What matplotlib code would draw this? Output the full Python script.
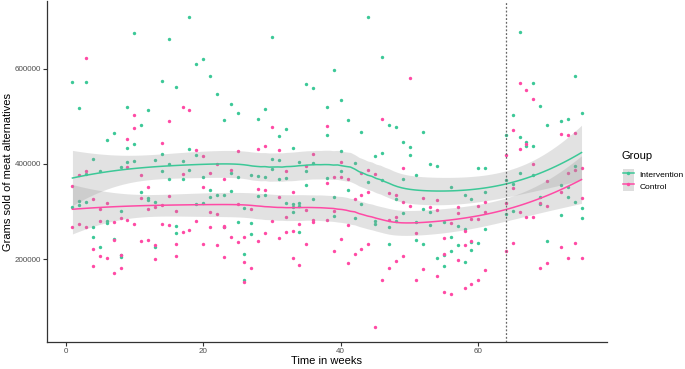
import numpy as np
import matplotlib
matplotlib.use('Agg')
import matplotlib.pyplot as plt
from matplotlib.lines import Line2D
from matplotlib.patches import Patch

plt.rcParams['font.family'] = ['Liberation Sans', 'DejaVu Sans']

# sales per week, thousands of grams
int_week = [1, 1, 2, 2, 2, 3, 3, 3, 4, 4, 4, 5, 5, 6, 6, 6, 7, 7, 8, 8, 8, 8,
            9, 9, 9, 10, 10, 10, 11, 11, 12, 12, 12, 13, 13, 13, 14, 14, 14,
            15, 15, 15, 16, 16, 16, 17, 17, 18, 18, 18, 19, 19, 19, 20, 20, 20,
            21, 21, 21, 22, 22, 23, 23, 23, 24, 24, 24, 25, 25, 25, 26, 26, 26,
            27, 27, 27, 28, 28, 28, 29, 29, 29, 30, 30, 30, 31, 31, 31,
            32, 32, 32, 33, 33, 33, 33, 34, 34, 34, 34, 35, 35, 35, 36, 36, 36,
            38, 38, 38, 39, 39, 39, 40, 40, 40, 41, 41, 42, 42, 43, 43, 44, 44,
            45, 45, 45, 46, 46, 46, 47, 47, 47, 48, 48, 48, 49, 49, 49, 50, 50,
            51, 51, 51, 52, 52, 52, 53, 53, 53, 54, 54, 55, 55, 55, 56, 56, 56,
            57, 57, 58, 58, 58, 59, 59, 59, 60, 60, 61, 61, 61,
            64, 64, 64, 65, 65, 65, 66, 66, 66, 67, 67, 68, 68, 68, 69, 69, 69,
            70, 70, 72, 72, 72, 73, 73, 73, 74, 74, 74, 75, 75, 75]
int_k = [573, 310, 518, 323, 314, 573, 378, 320, 411, 268, 246, 385, 225,
         450, 281, 275, 465, 243, 394, 302, 208, 205, 519, 434, 404, 675, 442, 407,
         483, 342, 514, 328, 324, 408, 320, 225, 574, 420, 386, 663, 399, 368,
         561, 269, 255, 406, 368, 709, 432, 387, 610, 418, 315, 621, 373, 317,
         585, 345, 331, 547, 334, 492, 334, 268, 526, 381, 344, 507, 372, 279,
         307, 211, 157, 376, 276, 252, 495, 375, 333, 515, 373, 335, 668, 410, 389,
         458, 408, 368, 474, 371, 318, 434, 316, 310, 299, 404, 317, 311, 256,
         568, 386, 356, 559, 402, 327, 520, 462, 370, 598, 330, 290, 535, 428, 385,
         492, 346, 402, 286, 468, 316, 710, 362, 416, 281, 274, 626, 423, 366,
         483, 267, 231, 477, 326, 281, 446, 368, 296, 436, 418, 376, 278, 241,
         467, 305, 232, 401, 300, 271, 395, 203, 279, 208, 186, 351, 247, 217,
         269, 229, 335, 264, 194, 326, 236, 219, 391, 234, 392, 342, 264,
         461, 366, 295, 502, 357, 302, 677, 457, 381, 447, 438, 571, 438, 377,
         522, 331, 315, 481, 237, 491, 355, 292, 495, 351, 331, 585, 396, 319,
         508, 308, 286]

ctl_week = [1, 1, 2, 2, 3, 3, 3, 4, 4, 4, 5, 5, 5, 6, 6, 7, 7, 7, 8, 8, 8,
            9, 9, 9, 10, 10, 10, 11, 11, 11, 12, 12, 12, 13, 13, 13, 14, 14, 14,
            15, 15, 15, 16, 16, 16, 17, 17, 17, 18, 18, 19, 19, 20, 20, 20,
            21, 21, 21, 22, 22, 22, 23, 23, 23, 23, 24, 24, 25, 25, 25, 26, 26, 26,
            27, 27, 28, 28, 28, 29, 29, 29, 30, 30, 31, 31, 31, 32, 32, 32,
            33, 33, 33, 34, 34, 35, 35, 35, 36, 36, 36, 38, 38, 38, 39, 39, 39,
            40, 40, 40, 41, 41, 41, 42, 42, 43, 43, 43, 44, 44, 44, 45, 45, 46, 46,
            47, 47, 47, 48, 48, 48, 49, 49, 49, 50, 50, 51, 51, 52, 52, 53,
            54, 54, 54, 55, 55, 55, 56, 56, 57, 57, 57, 58, 58, 58, 59, 59, 59,
            60, 60, 60, 61, 61, 61, 64, 64, 64, 65, 65, 65, 66, 66, 66, 67, 67, 67,
            68, 68, 68, 69, 69, 70, 70, 70, 72, 72, 72, 73, 73, 73, 74, 74, 74,
            75, 75, 75]
ctl_k = [354, 267, 376, 273, 623, 385, 268, 326, 222, 185, 306, 281, 207,
         317, 203, 278, 240, 170, 286, 209, 182, 453, 393, 282, 504, 476, 274,
         376, 328, 237, 352, 305, 240, 309, 230, 200, 445, 314, 274, 491, 333, 272,
         302, 232, 206, 519, 378, 257, 513, 262, 429, 281, 416, 351, 231,
         380, 298, 268, 399, 294, 230, 368, 270, 267, 205, 388, 246, 428, 316, 236,
         247, 194, 152, 305, 182, 432, 347, 238, 438, 346, 255, 478, 280,
         429, 330, 244, 385, 289, 256, 341, 259, 203, 273, 187, 396, 304, 232,
         420, 282, 278, 479, 359, 283, 373, 302, 218, 404, 373, 243, 368, 272, 192,
         326, 211, 381, 334, 222, 387, 342, 231, 379, 58, 495, 156,
         340, 283, 182, 335, 289, 196, 391, 319, 207, 581, 311, 254, 156, 328, 180, 310,
         325, 303, 164, 244, 211, 131, 276, 126, 310, 297, 197, 258, 229, 140,
         284, 239, 147, 312, 284, 157, 319, 299, 178, 419, 318, 216, 472, 349, 233,
         570, 431, 299, 556, 443, 288, 537, 399, 288, 317, 182, 365, 312, 191,
         463, 342, 225, 462, 381, 203, 466, 388, 234, 392, 329, 202]

policy_week = 64
groups = ['Intervention', 'Control']
colors = ['#3cc897', '#ff4aa5']


def loess(x, y, xs, span=0.75):
    # local quadratic fit, tricube weights (like R's loess default)
    n = len(x)
    q = int(np.floor(n * span))

    def rows(pts):
        out = []
        for x0 in pts:
            d = np.abs(x - x0)
            h = np.sort(d)[q - 1]
            w = np.clip(1 - (d / h) ** 3, 0, None) ** 3
            X = np.column_stack([np.ones(n), x - x0, (x - x0) ** 2])
            XtW = X.T * w
            out.append(np.linalg.solve(XtW @ X, XtW)[0])
        return np.array(out)

    L = rows(x)
    res = y - L @ y
    IL = np.eye(n) - L
    d1 = np.trace(IL.T @ IL)
    sigma = np.sqrt(np.sum(res ** 2) / d1)
    Ls = rows(xs)
    fit = Ls @ y
    se = sigma * np.sqrt(np.sum(Ls ** 2, axis=1))
    return fit, se


fig = plt.figure(figsize=(6.85, 3.69), dpi=100)
ax = fig.add_axes([0.0686, 0.073, 0.8175, 0.924])

data = [(np.array(int_week, float), np.array(int_k, float) * 1000),
        (np.array(ctl_week, float), np.array(ctl_k, float) * 1000)]

for (wk, val), c in zip(data, colors):
    ax.scatter(wk, val, s=6, color=c, linewidths=0, zorder=2)

xs = np.linspace(1, 75, 120)
for (wk, val), c in zip(data, colors):
    fit, se = loess(wk, val, xs)
    ax.fill_between(xs, fit - 1.97 * se, fit + 1.97 * se, color='#999999',
                    alpha=0.28, linewidth=0, zorder=3)
    ax.plot(xs, fit, color=c, lw=1.1, zorder=4)

ax.axvline(policy_week, color='#666666', lw=0.9, ls=(0, (1.5, 1.5)), zorder=5)

ax.set_xlim(-2.7, 78.7)
allv = np.concatenate([data[0][1], data[1][1]])
rng = allv.max() - allv.min()
ax.set_ylim(allv.min() - 0.05 * rng, allv.max() + 0.05 * rng)
ax.set_xticks([0, 20, 40, 60])
ax.set_yticks([200000, 400000, 600000])
ax.set_yticklabels(['200000', '400000', '600000'])

for s in ['top', 'right']:
    ax.spines[s].set_visible(False)
for s in ['left', 'bottom']:
    ax.spines[s].set_color('#333333')
    ax.spines[s].set_linewidth(0.9)
ax.tick_params(length=3, width=0.8, color='#333333', labelcolor='#4d4d4d',
               labelsize=5.8, pad=1)

ax.set_xlabel('Time in weeks', fontsize=8, labelpad=1)
ax.set_ylabel('Grams sold of meat alternatives', fontsize=8, labelpad=1.5)

fig.text(622 / 685, 1 - 156 / 369, 'Group', fontsize=8, va='center', ha='left')
handles = [(Patch(facecolor='#dedede', edgecolor='none'),
            Line2D([], [], color=c, lw=1.1, marker='o', markersize=2.5, markeredgewidth=0))
           for c in colors]
leg = fig.legend(handles, groups, loc='center left',
                 bbox_to_anchor=(0.898, 1 - 180 / 369), frameon=False, fontsize=6,
                 handlelength=1.4, handleheight=1.7, handletextpad=0.6,
                 labelspacing=0.05)

fig.savefig('out.png', dpi=100)
